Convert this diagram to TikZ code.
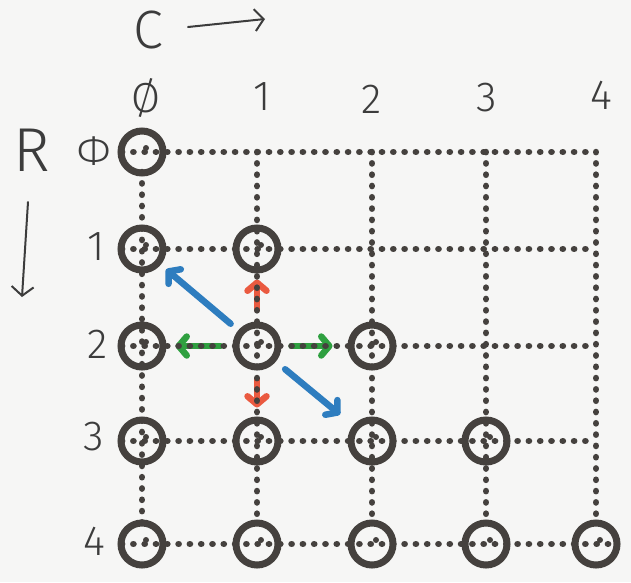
\documentclass[tikz,border=0pt]{standalone}
\usepackage{fontspec}
\setmainfont{Fira Sans}[UprightFont=* Light]
\usetikzlibrary{arrows.meta}
\definecolor{ink}{HTML}{45413E}
\definecolor{paper}{HTML}{F6F6F5}
\definecolor{bl}{HTML}{2E7DBF}
\definecolor{rd}{HTML}{EA5A40}
\definecolor{gr}{HTML}{2FA040}
\definecolor{txt}{HTML}{3C3C3C}
\pgfdeclarelayer{paperlayer}
\pgfdeclarelayer{arrowlayer}
\pgfdeclarelayer{gridlayer}
\pgfsetlayers{paperlayer,arrowlayer,gridlayer,main}
\begin{document}
\begin{tikzpicture}[x=1pt,y=-1pt,
  cell/.style={circle,draw=ink,line width=7pt,minimum size=42pt,inner sep=0pt},
  dots/.style={draw=ink,line width=6.5pt,line cap=round,dash pattern=on 0.2pt off 11.1pt},
  lbl/.style={text=txt,font=\fontsize{42}{42}\selectfont,inner sep=0pt},
  mv/.style={line width=6.5pt,line cap=round,line join=round,-{Straight Barb[length=8pt,width=19pt,round]}},
  hand/.style={draw=txt,line width=2pt,line cap=round,-{Straight Barb[length=9pt,width=22pt]}}]
\begin{pgfonlayer}{paperlayer}
\fill[paper] (0,0) rectangle (631,582);
\end{pgfonlayer}
\useasboundingbox (0,0) rectangle (631,582);
% grid positions
\def\ya{152}\def\yb{249}\def\yc{346}\def\yd{441}\def\ye{544}
\def\xa{142}\def\xb{257}\def\xc{372}\def\xd{486}\def\xe{596}
% circles
\node[cell] (n00) at (\xa,\ya) {};
\node[cell] (n10) at (\xa,\yb) {};
\node[cell] (n11) at (\xb,\yb) {};
\node[cell] (n20) at (\xa,\yc) {};
\node[cell] (n21) at (\xb,\yc) {};
\node[cell] (n22) at (\xc,\yc) {};
\node[cell] (n30) at (\xa,\yd) {};
\node[cell] (n31) at (\xb,\yd) {};
\node[cell] (n32) at (\xc,\yd) {};
\node[cell] (n33) at (\xd,\yd) {};
\node[cell] (n40) at (\xa,\ye) {};
\node[cell] (n41) at (\xb,\ye) {};
\node[cell] (n42) at (\xc,\ye) {};
\node[cell] (n43) at (\xd,\ye) {};
\node[cell] (n44) at (\xe,\ye) {};
% free ends of the grid lines
\coordinate (e0) at (\xe,\ya);
\coordinate (e1) at (\xe,\yb);
\coordinate (e2) at (\xe,\yc);
\coordinate (e3) at (\xe,\yd);
\coordinate (t1) at (\xb,\ya);
\coordinate (t2) at (\xc,\ya);
\coordinate (t3) at (\xd,\ya);
% dotted grid
\begin{pgfonlayer}{gridlayer}
\path[dots] ([xshift=-20pt]n00.center) -- (e0);
\path[dots] ([xshift=-20pt]n10.center) -- (e1);
\path[dots] ([xshift=-20pt]n20.center) -- (e2);
\path[dots] ([xshift=-20pt]n30.center) -- (e3);
\path[dots] ([xshift=-20pt]n40.center) -- ([xshift=20pt]n44.center);
\path[dots] ([yshift=-20pt]n00.center) -- ([yshift=20pt]n40.center);
\path[dots] (t1) -- ([yshift=20pt]n41.center);
\path[dots] (t2) -- ([yshift=20pt]n42.center);
\path[dots] (t3) -- ([yshift=20pt]n43.center);
\path[dots] (e0) -- ([yshift=20pt]n44.center);
\foreach \n in {n00,n10,n11,n20,n21,n22,n30,n31,n32,n33,n40,n41,n42,n43,n44}{
  \fill[ink] ([shift={(4pt,4pt)}]\n.center) circle (3pt);
}
\end{pgfonlayer}
% moves
\begin{pgfonlayer}{arrowlayer}
\draw[mv,bl,shorten <=10pt,shorten >=7pt] (n21) -- (n10);
\draw[mv,bl,shorten <=12pt,shorten >=17pt] (n21) -- (n32);
\draw[mv,rd,shorten <=12pt,shorten >=6pt] (n21) -- (n11);
\draw[mv,rd,shorten <=9pt,shorten >=9pt] (n21) -- (n31);
\draw[mv,gr,shorten <=12pt,shorten >=9pt] (n21) -- (n20);
\draw[mv,gr,shorten <=10pt,shorten >=15pt] (n21) -- (n22);
\end{pgfonlayer}
% column labels
\node[lbl] (c0) at (146,98) {Ø};
\node[lbl] (c1) at (262,97) {1};
\node[lbl] (c2) at (372,99) {2};
\node[lbl] (c3) at (487,98) {3};
\node[lbl] (c4) at (601,95) {4};
% row labels
\node[lbl] (r0) at (94,151) {Φ};
\node[lbl] (r1) at (96,247) {1};
\node[lbl] (r2) at (98,344) {2};
\node[lbl] (r3) at (94,437) {3};
\node[lbl] (r4) at (94,541) {4};
% axis names
\node[text=txt,font=\fontsize{54}{54}\selectfont,inner sep=0pt] (lc) at (148,30) {C};
\node[text=txt,font=\fontsize{62}{62}\selectfont,inner sep=0pt] (lr) at (32,150) {R};
\coordinate (ca) at (188,27);
\coordinate (cb) at (265,19);
\coordinate (ra) at (28,202);
\coordinate (rb) at (22,297);
\draw[hand] (ca) -- (cb);
\draw[hand] (ra) -- (rb);
\end{tikzpicture}
\end{document}
